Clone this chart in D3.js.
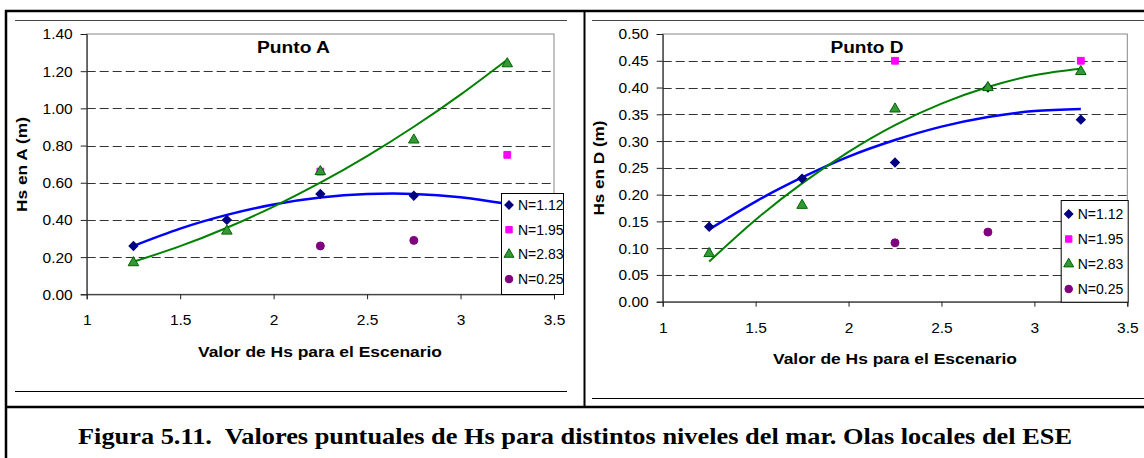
<!DOCTYPE html>
<html>
<head>
<meta charset="utf-8">
<title>Figura 5.11</title>
<script src="https://d3js.org/d3.v7.min.js"></script>
<style>
    body { margin: 0; background: #fff; }
    text { font-family: "Liberation Sans", Arial, sans-serif; fill: #000; }
    .tick text { font-size: 15.5px; }
    .bold { font-weight: bold; }
    .caption { font-family: "Liberation Serif", "Times New Roman", serif; font-weight: bold; font-size: 24px; white-space: pre; }
</style>
</head>
<body>
<svg width="1144" height="458"></svg>
<script>
    // x positions of the scenarios
    var xs = [1.25, 1.75, 2.25, 2.75, 3.25];
    var legendLabels = ["N=1.12", "N=1.95", "N=2.83", "N=0.25"];
    var xTicks = [1, 1.5, 2, 2.5, 3, 3.5];

    // Punto A
    var a112 = [0.26, 0.40, 0.54, 0.53, 0.47];
    var a195 = [null, null, 0.66, null, 0.75];
    var a283 = [0.17, 0.34, 0.66, 0.83, 1.24];
    var a025 = [null, null, 0.26, 0.29, null];
    var aTicks = [0, 0.2, 0.4, 0.6, 0.8, 1.0, 1.2, 1.4];

    // Punto D
    var d112 = [0.14, 0.23, 0.26, 0.40, 0.34];
    var d195 = [null, null, 0.45, null, 0.45];
    var d283 = [0.09, 0.18, 0.36, 0.40, 0.43];
    var d025 = [null, null, 0.11, 0.13, null];
    var dTicks = [0, 0.05, 0.1, 0.15, 0.2, 0.25, 0.3, 0.35, 0.4, 0.45, 0.5];

    // trend lines
    var trendX = [1.25, 1.5, 1.75, 2, 2.25, 2.5, 2.75, 3, 3.25];
    var aTrend112 = [0.26, 0.353, 0.427, 0.483, 0.52, 0.539, 0.54, 0.522, 0.486];
    var aTrend283 = [0.175, 0.259, 0.358, 0.472, 0.6, 0.743, 0.901, 1.074, 1.262];
    var dTrend112 = [0.135, 0.187, 0.232, 0.271, 0.302, 0.327, 0.345, 0.356, 0.36];
    var dTrend283 = [0.075, 0.153, 0.221, 0.28, 0.33, 0.37, 0.401, 0.423, 0.435];

    var svg = d3.select("svg");

    // marker styles per series
    var markers = [
        {type: d3.symbolSquare, size: 40, rot: 45, fill: "#000080", stroke: "#000080"},
        {type: d3.symbolSquare, size: 46, rot: 0, fill: "#ff00ff", stroke: "#ff00ff"},
        {type: d3.symbolTriangle, size: 48, rot: 0, fill: "#339933", stroke: "#006400"},
        {type: d3.symbolCircle, size: 50, rot: 0, fill: "#800080", stroke: "#800080"}
    ];

    function drawChart(c) {
        var g = svg.append("g");
        var x = d3.scaleLinear().domain([1, 3.5]).range([c.left, c.right]);
        var y = d3.scaleLinear().domain([0, c.yMax]).range([c.bottom, c.top]);

        // dashed grid
        g.selectAll(".grid").data(c.yTicks.slice(1, -1)).enter().append("line")
            .attr("x1", c.left).attr("x2", c.right)
            .attr("y1", d => Math.round(y(d)) + 0.5).attr("y2", d => Math.round(y(d)) + 0.5)
            .attr("stroke", "#333").attr("stroke-dasharray", "9,4");

        // plot border
        g.append("rect")
            .attr("x", c.left).attr("y", c.top)
            .attr("width", c.right - c.left).attr("height", c.bottom - c.top)
            .attr("fill", "none").attr("stroke", "#888");

        var ax = g.append("g").attr("transform", "translate(0," + c.bottom + ")")
            .call(d3.axisBottom(x).tickValues(xTicks).tickFormat(d3.format("")).tickSizeOuter(0).tickSize(5).tickPadding(15));
        var ay = g.append("g").attr("transform", "translate(" + c.left + ",0)")
            .call(d3.axisLeft(y).tickValues(c.yTicks).tickFormat(d3.format(".2f")).tickSizeOuter(0).tickSize(6).tickPadding(8));
        [ax, ay].forEach(function (a) {
            a.select(".domain").attr("stroke", "#222");
            a.selectAll(".tick line").attr("stroke", "#222");
            a.selectAll(".tick text").attr("fill", "#000");
        });

        // trend lines
        var line = d3.line().x((d, i) => x(trendX[i])).y(d => y(d)).curve(d3.curveNatural);
        g.append("path").datum(c.trend112).attr("d", line)
            .attr("fill", "none").attr("stroke", "#0000ff").attr("stroke-width", 2.5);
        g.append("path").datum(c.trend283).attr("d", line)
            .attr("fill", "none").attr("stroke", "#008000").attr("stroke-width", 2);

        // points
        c.series.forEach(function (s, k) {
            var m = markers[k];
            var pts = s.map((v, i) => ({x: xs[i], v: v})).filter(d => d.v != null);
            g.selectAll(".p" + k).data(pts).enter().append("path")
                .attr("d", d3.symbol().type(m.type).size(m.size))
                .attr("transform", d => "translate(" + x(d.x) + "," + y(d.v) + ") rotate(" + m.rot + ")")
                .attr("fill", m.fill).attr("stroke", m.stroke).attr("stroke-width", 1);
        });

        // title and axis labels
        g.append("text").attr("class", "bold").attr("x", c.titleX).attr("y", 52.5)
            .attr("text-anchor", "middle").style("font-size", "16px")
            .attr("textLength", 73).attr("lengthAdjust", "spacingAndGlyphs").text(c.title);
        g.append("text").attr("class", "bold").attr("x", c.xLabelX).attr("y", c.xLabelY)
            .attr("text-anchor", "middle").style("font-size", "15px")
            .attr("textLength", 244).attr("lengthAdjust", "spacingAndGlyphs")
            .text("Valor de Hs para el Escenario");
        g.append("text").attr("class", "bold")
            .attr("transform", "translate(" + c.yLabelX + "," + c.yLabelY + ") rotate(-90)")
            .attr("text-anchor", "middle").style("font-size", "15px")
            .attr("textLength", 95).attr("lengthAdjust", "spacingAndGlyphs").text(c.ylabel);

        // legend
        var L = c.legend;
        g.append("rect").attr("x", L.x + 0.5).attr("y", L.y + 0.5).attr("width", L.w).attr("height", L.h)
            .attr("fill", "#fff").attr("stroke", "#000");
        legendLabels.forEach(function (lab, k) {
            var m = markers[k];
            var cy = L.y + L.first + k * L.step;
            g.append("path").attr("d", d3.symbol().type(m.type).size(m.size * 0.9))
                .attr("transform", "translate(" + (L.x + 8) + "," + cy + ") rotate(" + m.rot + ")")
                .attr("fill", m.fill).attr("stroke", m.stroke);
            g.append("text").attr("x", L.x + 17).attr("y", cy + 5).style("font-size", "14px").text(lab);
        });
    }

    drawChart({
        left: 86.7, right: 554, top: 34, bottom: 294.3, yMax: 1.4, yTicks: aTicks,
        title: "Punto A", titleX: 293.5, ylabel: "Hs en A (m)", yLabelX: 27, yLabelY: 164.5,
        xLabelX: 320, xLabelY: 357,
        series: [a112, a195, a283, a025], trend112: aTrend112, trend283: aTrend283,
        legend: {x: 501, y: 193, w: 62, h: 101, first: 12, step: 24.7}
    });
    drawChart({
        left: 662.7, right: 1127.3, top: 34, bottom: 301.7, yMax: 0.5, yTicks: dTicks,
        title: "Punto D", titleX: 867, ylabel: "Hs en D (m)", yLabelX: 603.5, yLabelY: 168,
        xLabelX: 895, xLabelY: 364,
        series: [d112, d195, d283, d025], trend112: dTrend112, trend283: dTrend283,
        legend: {x: 1060.7, y: 200, w: 67, h: 101.7, first: 14, step: 25}
    });

    // table frame around the figure
    var frame = svg.append("g").attr("fill", "none");
    frame.append("line").attr("x1", 5).attr("x2", 1144).attr("y1", 11).attr("y2", 11).attr("stroke", "#000").attr("stroke-width", 2.5);
    frame.append("line").attr("x1", 6).attr("x2", 6).attr("y1", 10).attr("y2", 458).attr("stroke", "#000").attr("stroke-width", 2.5);
    frame.append("line").attr("x1", 584.5).attr("x2", 584.5).attr("y1", 10).attr("y2", 407).attr("stroke", "#000").attr("stroke-width", 2);
    frame.append("line").attr("x1", 5).attr("x2", 1144).attr("y1", 407).attr("y2", 407).attr("stroke", "#000").attr("stroke-width", 2.5);
    frame.append("line").attr("x1", 15).attr("x2", 567).attr("y1", 20.5).attr("y2", 20.5).attr("stroke", "#444");
    frame.append("line").attr("x1", 592).attr("x2", 1144).attr("y1", 20.5).attr("y2", 20.5).attr("stroke", "#444");
    frame.append("line").attr("x1", 15).attr("x2", 567).attr("y1", 391.5).attr("y2", 391.5).attr("stroke", "#000");
    frame.append("line").attr("x1", 592).attr("x2", 1144).attr("y1", 398.5).attr("y2", 398.5).attr("stroke", "#000");

    svg.append("text").attr("class", "caption").attr("x", 575).attr("y", 444)
        .attr("text-anchor", "middle").attr("textLength", 994).attr("lengthAdjust", "spacingAndGlyphs")
        .text("Figura 5.11.  Valores puntuales de Hs para distintos niveles del mar. Olas locales del ESE");
</script>
</body>
</html>
